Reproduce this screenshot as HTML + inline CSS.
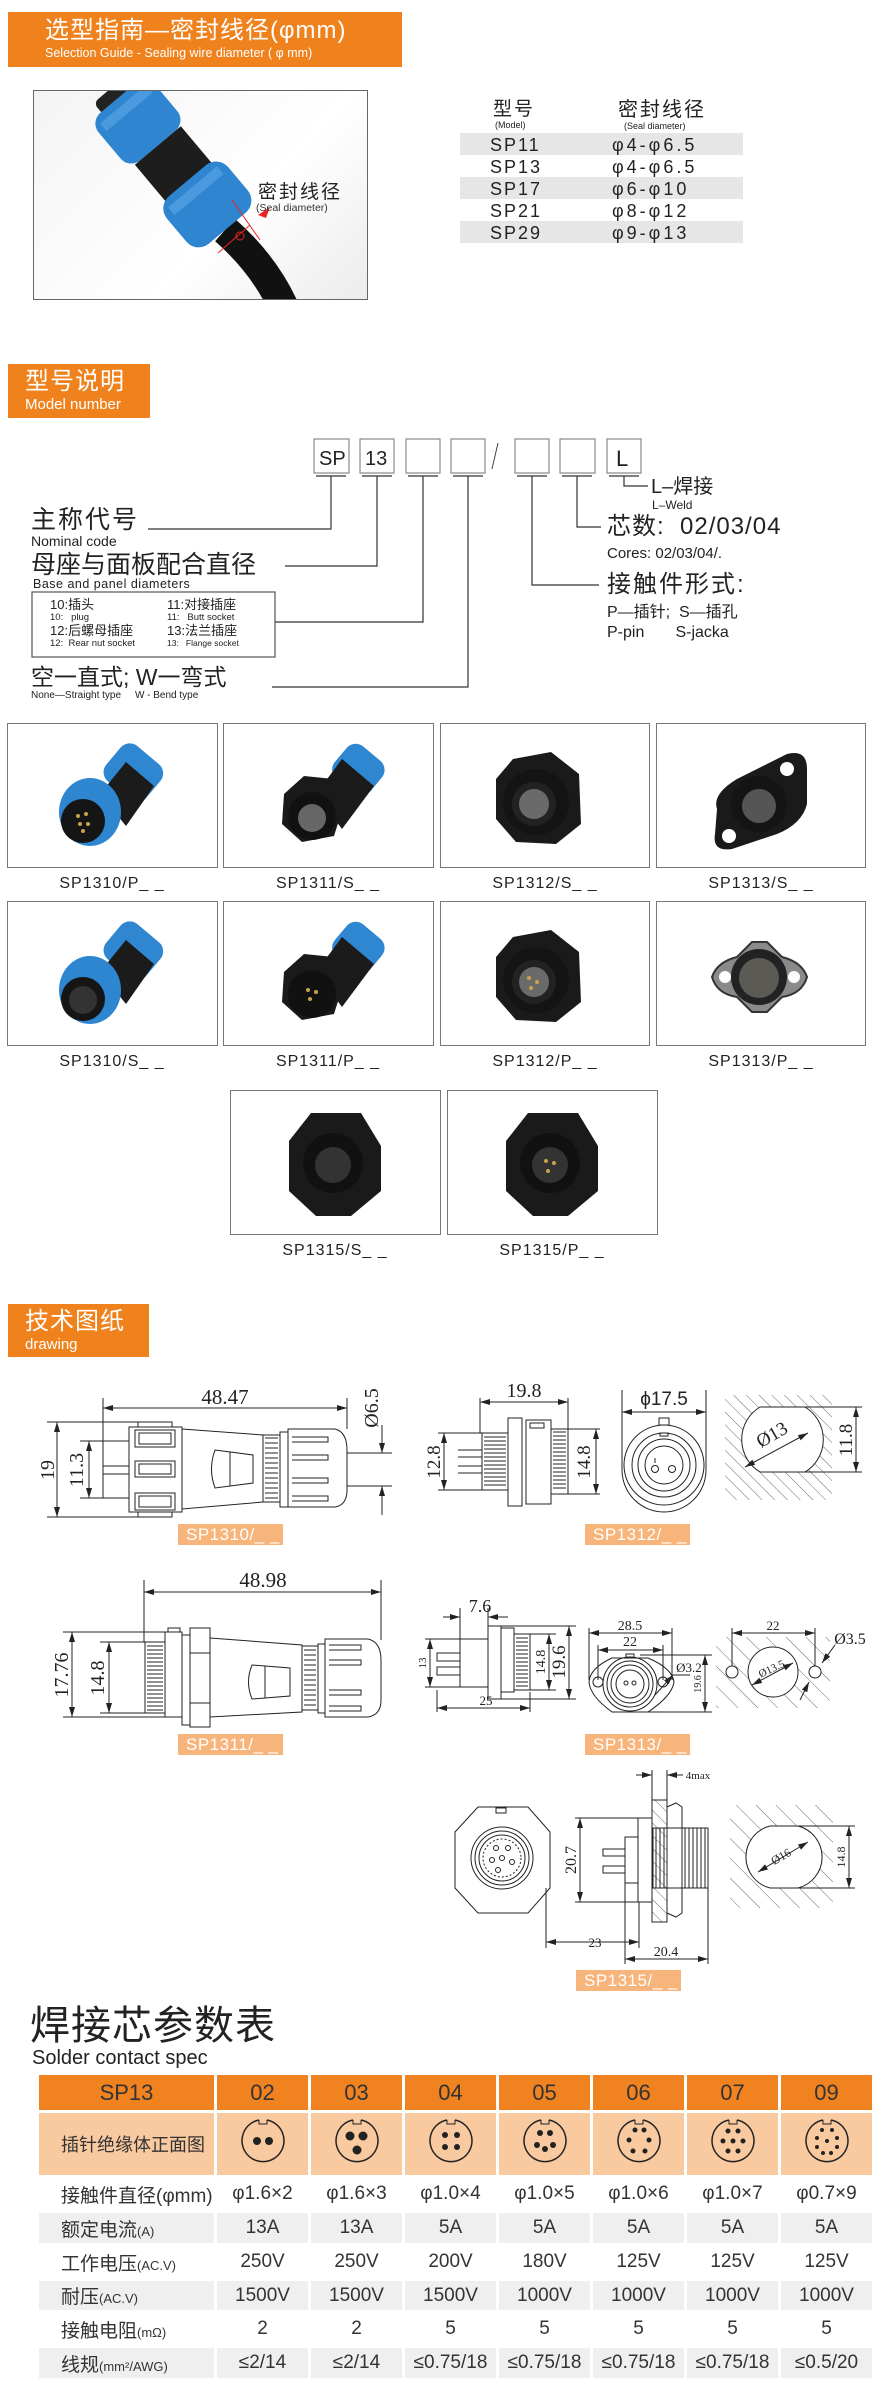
<!DOCTYPE html>
<html><head><meta charset="utf-8">
<style>
*{margin:0;padding:0;box-sizing:border-box}
body{width:875px;height:2381px;position:relative;overflow:hidden;background:#fff;font-family:"Liberation Sans","Noto Sans CJK SC",sans-serif;color:#222}
.a{position:absolute;white-space:nowrap;line-height:1}
.hdr{position:absolute;background:#f0821e;color:#fff}
.cell{position:absolute;border:1.5px solid #777;background:#fff;overflow:hidden}
.cap{position:absolute;font-size:16px;letter-spacing:1px;color:#222;text-align:center;width:210px;line-height:1}
table.sp{position:absolute;left:36px;top:2072px;border-collapse:separate;border-spacing:3px;font-family:"Liberation Sans Narrow","Liberation Sans","Noto Sans CJK SC",sans-serif}
table.sp td{text-align:center;font-size:19px;color:#333;padding:0}
table.sp tr.h td{background:#f0821f;color:#333;font-size:22px;height:35px}
table.sp tr.i td{background:#f9c9a0;height:62px}
table.sp tr.g td{background:#efefef}
table.sp td.f{text-align:left;padding-left:22px;font-size:19px;width:175px}
table.sp td.c{width:91px}
.lbl{position:absolute;background:#f7b47b;color:#fff;font-size:17px;width:105px;height:21px;line-height:21px;padding-left:8px;letter-spacing:.5px}
</style></head><body>

<!-- header 1 -->
<div class="hdr" style="left:8px;top:12px;width:394px;height:55px">
<div class="a" style="left:37px;top:7px;font-size:24px;letter-spacing:1px">选型指南—密封线径(φmm)</div>
<div class="a" style="left:37px;top:35px;font-size:12.5px">Selection Guide - Sealing wire diameter ( φ mm)</div>
</div>

<!-- photo -->
<div style="position:absolute;left:33px;top:90px;width:335px;height:210px;border:1.5px solid #666;background:linear-gradient(135deg,#f4f4f4,#fff 60%,#ececec);overflow:hidden">
<svg width="335" height="210" viewBox="33 90 335 210" style="position:absolute;left:-1px;top:-1px">
<path d="M225,230 Q265,265 285,310" fill="none" stroke="#111" stroke-width="30"/>
<g transform="translate(118,98) rotate(50)">
<rect x="-12" y="-22" width="16" height="44" rx="6" fill="#222"/>
<rect x="0" y="-37" width="62" height="74" rx="14" fill="#2f85cf"/>
<rect x="8" y="-30" width="10" height="60" fill="#4b9ae0"/>
<rect x="62" y="-30" width="52" height="60" fill="#1d1d1d"/>
<rect x="108" y="-40" width="62" height="80" rx="16" fill="#2f85cf"/>
<rect x="116" y="-32" width="10" height="64" fill="#4b9ae0"/>
</g>
<line x1="250" y1="225" x2="218" y2="253" stroke="#e22" stroke-width="1"/>
<line x1="232" y1="200" x2="260" y2="240" stroke="#e22" stroke-width="1"/>
<polygon points="258,215 270,207 266,218" fill="#e22"/>
<circle cx="240" cy="236" r="4" fill="none" stroke="#e22"/>
</svg>
<div class="a" style="left:224px;top:92px;font-size:19px;color:#222;letter-spacing:2px">密封线径</div>
<div class="a" style="left:222px;top:112px;font-size:10.5px;color:#333">(Seal diameter)</div>
</div>

<!-- seal table -->
<div class="a" style="left:493px;top:100px;font-size:19px;letter-spacing:2px">型号</div>
<div class="a" style="left:495px;top:121px;font-size:9px">(Model)</div>
<div class="a" style="left:618px;top:100px;font-size:20px;letter-spacing:2px">密封线径</div>
<div class="a" style="left:624px;top:122px;font-size:9px">(Seal diameter)</div>
<div style="position:absolute;left:460px;top:133px;width:283px;height:22px;background:#e6e6e6"></div>
<div style="position:absolute;left:460px;top:177px;width:283px;height:22px;background:#e6e6e6"></div>
<div style="position:absolute;left:460px;top:221px;width:283px;height:22px;background:#e6e6e6"></div>
<div class="a" style="left:490px;top:134px;font-size:18px;letter-spacing:2px;line-height:22px">SP11<br>SP13<br>SP17<br>SP21<br>SP29</div>
<div class="a" style="left:612px;top:134px;font-size:18px;letter-spacing:3px;line-height:22px">φ4-φ6.5<br>φ4-φ6.5<br>φ6-φ10<br>φ8-φ12<br>φ9-φ13</div>

<!-- header 2 -->
<div class="hdr" style="left:8px;top:364px;width:142px;height:54px">
<div class="a" style="left:17px;top:6px;font-size:24px;letter-spacing:1px">型号说明</div>
<div class="a" style="left:17px;top:33px;font-size:15px">Model number</div>
</div>

<!-- model code diagram -->
<svg class="a" style="left:0;top:430px" width="875" height="280" viewBox="0 430 875 280">
<g fill="#fff" stroke="#888" stroke-width="1.2">
<rect x="314" y="439" width="35" height="34"/><rect x="360" y="439" width="34" height="34"/><rect x="406" y="439" width="34" height="34"/><rect x="451" y="439" width="34" height="34"/><rect x="515" y="439" width="34" height="34"/><rect x="560" y="439" width="35" height="34"/><rect x="607" y="439" width="34" height="34"/>
</g>
<line x1="498" y1="443" x2="492" y2="469" stroke="#444"/>
<g stroke="#333" stroke-width="1.2" fill="none">
<line x1="316" y1="476" x2="346" y2="476"/><line x1="362" y1="476" x2="392" y2="476"/><line x1="408" y1="476" x2="438" y2="476"/><line x1="453" y1="476" x2="483" y2="476"/><line x1="517" y1="476" x2="547" y2="476"/><line x1="562" y1="476" x2="592" y2="476"/><line x1="609" y1="476" x2="639" y2="476"/>
<polyline points="331,476 331,529 148,529"/>
<polyline points="377,476 377,566 285,566"/>
<polyline points="423,476 423,622 275,622"/>
<polyline points="468,476 468,687 272,687"/>
<polyline points="532,476 532,585 599,585"/>
<polyline points="577,476 577,527 601,527"/>
<polyline points="624,476 624,486 648,486"/>
<rect x="32" y="592" width="243" height="65" stroke="#555"/>
</g>
<text x="616" y="466" font-size="22" fill="#222" font-family="Liberation Sans">L</text>
<text x="319" y="465" font-size="20" fill="#222" font-family="Liberation Sans">SP</text>
<text x="365" y="465" font-size="20" fill="#222" font-family="Liberation Sans">13</text>
</svg>
<div class="a" style="left:651px;top:477px;font-size:20px">L–焊接</div>
<div class="a" style="left:652px;top:499px;font-size:12px">L–Weld</div>
<div class="a" style="left:607px;top:515px;font-size:24px;letter-spacing:1px">芯数:&nbsp; 02/03/04</div>
<div class="a" style="left:607px;top:546px;font-size:15px">Cores: 02/03/04/.</div>
<div class="a" style="left:607px;top:573px;font-size:24px;letter-spacing:2px">接触件形式:</div>
<div class="a" style="left:607px;top:605px;font-size:16px">P—插针;&nbsp; S—插孔</div>
<div class="a" style="left:607px;top:625px;font-size:16px">P-pin&nbsp;&nbsp;&nbsp;&nbsp;&nbsp;&nbsp; S-jacka</div>

<div class="a" style="left:31px;top:508px;font-size:25px;letter-spacing:2px">主称代号</div>
<div class="a" style="left:31px;top:534px;font-size:14px">Nominal code</div>
<div class="a" style="left:31px;top:553px;font-size:25px">母座与面板配合直径</div>
<div class="a" style="left:33px;top:578px;font-size:12.5px;letter-spacing:.5px">Base and panel diameters</div>
<div class="a" style="left:50px;top:598px;font-size:13px">10:插头</div>
<div class="a" style="left:50px;top:613px;font-size:9.5px">10:&nbsp;&nbsp; plug</div>
<div class="a" style="left:50px;top:624px;font-size:13px">12:后螺母插座</div>
<div class="a" style="left:50px;top:639px;font-size:9.5px">12:&nbsp; Rear nut socket</div>
<div class="a" style="left:167px;top:598px;font-size:13px">11:对接插座</div>
<div class="a" style="left:167px;top:613px;font-size:9.5px">11:&nbsp;&nbsp; Butt socket</div>
<div class="a" style="left:167px;top:624px;font-size:13px">13:法兰插座</div>
<div class="a" style="left:167px;top:639px;font-size:8.5px">13:&nbsp;&nbsp; Flange socket</div>
<div class="a" style="left:31px;top:666px;font-size:23px">空一直式;&nbsp;W一弯式</div>
<div class="a" style="left:31px;top:691px;font-size:10px">None—Straight type&nbsp;&nbsp;&nbsp;&nbsp; W - Bend type</div>

<!-- photo grid symbols -->
<svg width="0" height="0" style="position:absolute">
<defs>
<g id="plug">
<g transform="rotate(40 126 48)"><rect x="100" y="26" width="52" height="46" rx="12" fill="#2f86d1"/></g>
<polygon points="92,70 118,38 146,62 118,102" fill="#1b1b1b"/>
<ellipse cx="82" cy="88" rx="31" ry="34" fill="#2e85d0"/>
<circle cx="75" cy="97" r="22" fill="#151515"/>
</g>
<g id="plughex">
<g transform="rotate(40 135 45)"><rect x="112" y="25" width="46" height="42" rx="12" fill="#2f86d1"/></g>
<polygon points="92,70 118,35 150,62 118,105" fill="#1b1b1b"/>
<polygon points="60,70 80,52 110,55 120,80 110,112 78,118 58,100" fill="#1a1a1a"/>
<circle cx="88" cy="92" r="24" fill="#111"/>
</g>
<g id="panel">
<polygon points="72,35 110,28 138,50 140,100 115,120 75,118 55,95 55,55" fill="#1a1a1a"/>
<circle cx="95" cy="78" r="33" fill="#141414"/>
<circle cx="93" cy="80" r="22" fill="#222"/>
<circle cx="93" cy="80" r="15" fill="#6a6a6a"/>
</g>
<g id="flange">
<path d="M60,85 Q55,70 80,55 L130,30 Q150,25 150,45 L150,80 Q145,100 120,110 L75,125 Q55,128 58,110 Z" fill="#1a1a1a"/>
<circle cx="130" cy="45" r="7" fill="#fff"/><circle cx="72" cy="112" r="7" fill="#fff"/>
<circle cx="102" cy="80" r="28" fill="#141414"/>
<circle cx="102" cy="82" r="17" fill="#555"/>
</g>
<g id="hex15">
<polygon points="80,22 130,22 150,55 150,100 120,125 85,125 58,100 58,50" fill="#1a1a1a"/>
<circle cx="102" cy="72" r="30" fill="#111"/><circle cx="102" cy="74" r="18" fill="#333"/>
</g>
</defs>
</svg>

<!-- row 1 -->
<div class="cell" style="left:7px;top:723px;width:211px;height:145px"><svg width="210" height="145"><use href="#plug"/><g fill="#c9a24a"><circle cx="70" cy="92" r="2"/><circle cx="78" cy="90" r="2"/><circle cx="72" cy="100" r="2"/><circle cx="80" cy="100" r="2"/><circle cx="75" cy="107" r="2"/></g></svg></div>
<div class="cell" style="left:223px;top:723px;width:211px;height:145px"><svg width="210" height="145"><use href="#plughex"/><circle cx="88" cy="94" r="14" fill="#666"/></svg></div>
<div class="cell" style="left:440px;top:723px;width:210px;height:145px"><svg width="210" height="145"><use href="#panel"/></svg></div>
<div class="cell" style="left:656px;top:723px;width:210px;height:145px"><svg width="210" height="145"><use href="#flange"/></svg></div>
<div class="cap" style="left:7px;top:876px">SP1310/P_ _</div>
<div class="cap" style="left:223px;top:876px">SP1311/S_ _</div>
<div class="cap" style="left:440px;top:876px">SP1312/S_ _</div>
<div class="cap" style="left:656px;top:876px">SP1313/S_ _</div>
<!-- row 2 -->
<div class="cell" style="left:7px;top:901px;width:211px;height:145px"><svg width="210" height="145"><use href="#plug"/><circle cx="75" cy="98" r="14" fill="#333"/></svg></div>
<div class="cell" style="left:223px;top:901px;width:211px;height:145px"><svg width="210" height="145"><use href="#plughex"/><g fill="#c9a24a"><circle cx="84" cy="88" r="2"/><circle cx="92" cy="90" r="2"/><circle cx="86" cy="97" r="2"/></g></svg></div>
<div class="cell" style="left:440px;top:901px;width:210px;height:145px"><svg width="210" height="145"><use href="#panel"/><g fill="#c9a24a"><circle cx="88" cy="76" r="2"/><circle cx="96" cy="80" r="2"/><circle cx="90" cy="86" r="2"/></g></svg></div>
<div class="cell" style="left:656px;top:901px;width:210px;height:145px"><svg width="210" height="145"><path d="M55,75 Q60,60 80,55 L95,40 L110,40 L125,55 Q145,60 150,75 Q145,92 125,95 L110,110 L95,110 L80,95 Q60,92 55,75Z" fill="#8a8a8a" stroke="#333" stroke-width="2"/><circle cx="68" cy="75" r="6" fill="#fff"/><circle cx="137" cy="75" r="6" fill="#fff"/><circle cx="102" cy="75" r="28" fill="#222"/><circle cx="102" cy="76" r="20" fill="#5c5a55"/></svg></div>
<div class="cap" style="left:7px;top:1054px">SP1310/S_ _</div>
<div class="cap" style="left:223px;top:1054px">SP1311/P_ _</div>
<div class="cap" style="left:440px;top:1054px">SP1312/P_ _</div>
<div class="cap" style="left:656px;top:1054px">SP1313/P_ _</div>
<!-- row 3 -->
<div class="cell" style="left:230px;top:1090px;width:211px;height:145px"><svg width="210" height="145"><use href="#hex15"/></svg></div>
<div class="cell" style="left:447px;top:1090px;width:211px;height:145px"><svg width="210" height="145"><use href="#hex15"/><g fill="#c9a24a"><circle cx="98" cy="70" r="2"/><circle cx="106" cy="72" r="2"/><circle cx="100" cy="80" r="2"/></g></svg></div>
<div class="cap" style="left:230px;top:1243px">SP1315/S_ _</div>
<div class="cap" style="left:447px;top:1243px">SP1315/P_ _</div>

<!-- header 3 -->
<div class="hdr" style="left:8px;top:1304px;width:141px;height:53px">
<div class="a" style="left:17px;top:6px;font-size:24px;letter-spacing:1px">技术图纸</div>
<div class="a" style="left:17px;top:33px;font-size:15px">drawing</div>
</div>

<!-- drawings -->
<svg class="a" style="left:0;top:1370px" width="875" height="630" viewBox="0 1370 875 630" font-family="Liberation Serif,serif" fill="none" stroke="#222" stroke-width="1">
<defs>
<marker id="ar" viewBox="0 0 10 6" refX="10" refY="3" markerWidth="10" markerHeight="6" orient="auto-start-reverse" markerUnits="userSpaceOnUse"><path d="M0,0 L10,3 L0,6 Z" fill="#222" stroke="none"/></marker>
<pattern id="hat" width="9" height="9" patternUnits="userSpaceOnUse" patternTransform="rotate(-45)"><line x1="0" y1="0" x2="0" y2="9" stroke="#444" stroke-width="0.8"/></pattern>
<pattern id="hat2" width="14" height="14" patternUnits="userSpaceOnUse" patternTransform="rotate(-45)"><line x1="0" y1="0" x2="0" y2="14" stroke="#444" stroke-width="0.8"/></pattern>
</defs>

<!-- SP1310 -->
<line x1="103" y1="1398" x2="103" y2="1498"/><line x1="347" y1="1398" x2="347" y2="1429"/>
<line x1="103" y1="1408" x2="347" y2="1408" marker-start="url(#ar)" marker-end="url(#ar)"/>
<text x="225" y="1404" font-size="21" fill="#222" stroke="none" text-anchor="middle">48.47</text>
<line x1="47" y1="1422" x2="172" y2="1422"/><line x1="47" y1="1517" x2="172" y2="1517"/>
<line x1="57" y1="1422" x2="57" y2="1517" marker-start="url(#ar)" marker-end="url(#ar)"/>
<text x="54" y="1470" font-size="20" fill="#222" stroke="none" text-anchor="middle" transform="rotate(-90 54 1470)">19</text>
<line x1="80" y1="1441" x2="129" y2="1441"/><line x1="80" y1="1498" x2="129" y2="1498"/>
<line x1="89" y1="1441" x2="89" y2="1498" marker-start="url(#ar)" marker-end="url(#ar)"/>
<text x="83" y="1470" font-size="20" fill="#222" stroke="none" text-anchor="middle" transform="rotate(-90 83 1470)">11.3</text>
<line x1="103" y1="1466" x2="129" y2="1466"/><line x1="103" y1="1474" x2="129" y2="1474"/>
<rect x="129" y="1427" width="53" height="85"/>
<rect x="138" y="1422" width="34" height="5"/><rect x="138" y="1512" width="34" height="5"/>
<rect x="135" y="1430" width="40" height="17"/><rect x="139" y="1433" width="32" height="11"/>
<rect x="135" y="1461" width="40" height="16"/><rect x="139" y="1464" width="32" height="10"/>
<rect x="135" y="1493" width="40" height="17"/><rect x="139" y="1496" width="32" height="11"/>
<polygon points="182,1429 263,1435 263,1502 182,1509"/>
<path d="M215,1450 L253,1455 L253,1483 L215,1488 Q208,1469 215,1450Z"/><line x1="230" y1="1452" x2="230" y2="1486"/>
<rect x="263" y="1435" width="17" height="67"/>
<path d="M265,1438 h13 M265,1443 h13 M265,1448 h13 M265,1453 h13 M265,1458 h13 M265,1463 h13 M265,1468 h13 M265,1473 h13 M265,1478 h13 M265,1483 h13 M265,1488 h13 M265,1493 h13 M265,1498 h13"/>
<rect x="280" y="1432" width="8" height="75"/>
<path d="M288,1429 L335,1429 Q347,1432 347,1450 L347,1490 Q347,1505 335,1507 L288,1507 Z"/>
<path d="M292,1437 h36 v5 h-36 M292,1455 h36 v5 h-36 M292,1478 h36 v5 h-36 M292,1496 h36 v5 h-36"/>
<line x1="347" y1="1453" x2="392" y2="1453"/><line x1="347" y1="1486" x2="392" y2="1486"/>
<line x1="382" y1="1425" x2="382" y2="1453" marker-end="url(#ar)"/><line x1="382" y1="1515" x2="382" y2="1486" marker-end="url(#ar)"/>
<text x="378" y="1408" font-size="20" fill="#222" stroke="none" text-anchor="middle" transform="rotate(-90 378 1408)">Ø6.5</text>

<!-- SP1312 -->
<line x1="480" y1="1398" x2="480" y2="1433"/><line x1="568" y1="1398" x2="568" y2="1430"/>
<line x1="480" y1="1402" x2="568" y2="1402" marker-start="url(#ar)" marker-end="url(#ar)"/>
<text x="524" y="1397" font-size="20" fill="#222" stroke="none" text-anchor="middle">19.8</text>
<line x1="438" y1="1433" x2="482" y2="1433"/><line x1="438" y1="1490" x2="482" y2="1490"/>
<line x1="444" y1="1433" x2="444" y2="1490" marker-start="url(#ar)" marker-end="url(#ar)"/>
<text x="440" y="1462" font-size="19" fill="#222" stroke="none" text-anchor="middle" transform="rotate(-90 440 1462)">12.8</text>
<line x1="458" y1="1450" x2="482" y2="1450"/><line x1="458" y1="1457" x2="482" y2="1457"/><line x1="458" y1="1466" x2="482" y2="1466"/><line x1="458" y1="1473" x2="482" y2="1473"/>
<rect x="482" y="1433" width="26" height="57"/>
<path d="M484,1437 h22 M484,1441 h22 M484,1445 h22 M484,1449 h22 M484,1453 h22 M484,1457 h22 M484,1461 h22 M484,1465 h22 M484,1469 h22 M484,1473 h22 M484,1477 h22 M484,1481 h22 M484,1485 h22"/>
<rect x="508" y="1418" width="14" height="88"/>
<rect x="526" y="1420" width="25" height="84"/><rect x="530" y="1423" width="14" height="5"/>
<rect x="551" y="1429" width="17" height="65"/>
<path d="M553,1432 h13 M553,1436 h13 M553,1440 h13 M553,1444 h13 M553,1448 h13 M553,1452 h13 M553,1456 h13 M553,1460 h13 M553,1464 h13 M553,1468 h13 M553,1472 h13 M553,1476 h13 M553,1480 h13 M553,1484 h13 M553,1488 h13"/>
<line x1="568" y1="1429" x2="600" y2="1429"/><line x1="568" y1="1494" x2="600" y2="1494"/>
<line x1="596" y1="1429" x2="596" y2="1494" marker-start="url(#ar)" marker-end="url(#ar)"/>
<text x="590" y="1462" font-size="19" fill="#222" stroke="none" text-anchor="middle" transform="rotate(-90 590 1462)">14.8</text>
<line x1="622" y1="1390" x2="622" y2="1470"/><line x1="706" y1="1390" x2="706" y2="1470"/>
<line x1="622" y1="1412" x2="706" y2="1412" marker-start="url(#ar)" marker-end="url(#ar)"/>
<text x="664" y="1405" font-size="19" fill="#222" stroke="none" text-anchor="middle" font-family="Liberation Sans">ϕ17.5</text>
<path d="M622,1420 L622,1470 A42,42 0 0 0 706,1470 L706,1420"/>
<circle cx="664" cy="1465" r="40"/><circle cx="664" cy="1465" r="32"/><circle cx="664" cy="1465" r="26"/><circle cx="664" cy="1465" r="19"/>
<rect x="659" y="1418" width="10" height="7"/><rect x="660" y="1433" width="8" height="3"/>
<circle cx="655" cy="1469" r="3.5"/><circle cx="672" cy="1469" r="3.5"/><line x1="655" y1="1458" x2="655" y2="1463"/>
<rect x="725" y="1395" width="107" height="105" fill="url(#hat)" stroke="none"/>
<path d="M760,1407 L805,1407 A38,38 0 0 1 805,1472 L760,1472 A38,38 0 0 1 760,1407Z" fill="#fff" stroke="#222"/>
<line x1="745" y1="1467" x2="808" y2="1433" marker-start="url(#ar)" marker-end="url(#ar)"/>
<text x="775" y="1440" font-size="19" fill="#222" stroke="none" text-anchor="middle" transform="rotate(-30 775 1440)">Ø13</text>
<line x1="805" y1="1407" x2="862" y2="1407"/><line x1="805" y1="1472" x2="862" y2="1472"/>
<line x1="856" y1="1407" x2="856" y2="1472" marker-start="url(#ar)" marker-end="url(#ar)"/>
<text x="852" y="1440" font-size="19" fill="#222" stroke="none" text-anchor="middle" transform="rotate(-90 852 1440)">11.8</text>

<!-- SP1311 -->
<line x1="144" y1="1580" x2="144" y2="1642"/><line x1="381" y1="1580" x2="381" y2="1640"/>
<line x1="144" y1="1592" x2="381" y2="1592" marker-start="url(#ar)" marker-end="url(#ar)"/>
<text x="263" y="1587" font-size="21" fill="#222" stroke="none" text-anchor="middle">48.98</text>
<line x1="63" y1="1632" x2="165" y2="1632"/><line x1="63" y1="1717" x2="165" y2="1717"/>
<line x1="72" y1="1632" x2="72" y2="1717" marker-start="url(#ar)" marker-end="url(#ar)"/>
<text x="68" y="1675" font-size="20" fill="#222" stroke="none" text-anchor="middle" transform="rotate(-90 68 1675)">17.76</text>
<line x1="100" y1="1642" x2="145" y2="1642"/><line x1="100" y1="1713" x2="145" y2="1713"/>
<line x1="109" y1="1642" x2="109" y2="1713" marker-start="url(#ar)" marker-end="url(#ar)"/>
<text x="104" y="1678" font-size="20" fill="#222" stroke="none" text-anchor="middle" transform="rotate(-90 104 1678)">14.8</text>
<rect x="145" y="1642" width="20" height="71"/>
<path d="M147,1646 h16 M147,1650 h16 M147,1654 h16 M147,1658 h16 M147,1662 h16 M147,1666 h16 M147,1670 h16 M147,1674 h16 M147,1678 h16 M147,1682 h16 M147,1686 h16 M147,1690 h16 M147,1694 h16 M147,1698 h16 M147,1702 h16 M147,1706 h16 M147,1710 h16"/>
<rect x="165" y="1632" width="17" height="85"/><rect x="168" y="1628" width="12" height="4"/>
<rect x="182" y="1635" width="8" height="90"/>
<rect x="190" y="1628" width="20" height="99"/><line x1="190" y1="1653" x2="210" y2="1653"/><line x1="190" y1="1703" x2="210" y2="1703"/>
<polygon points="210,1638 302,1645 302,1712 210,1717"/>
<path d="M252,1665 L290,1668 L290,1696 L252,1699 Q245,1682 252,1665Z"/><line x1="265" y1="1666" x2="265" y2="1698"/>
<rect x="302" y="1646" width="16" height="64"/>
<path d="M304,1650 h12 M304,1655 h12 M304,1660 h12 M304,1665 h12 M304,1670 h12 M304,1675 h12 M304,1680 h12 M304,1685 h12 M304,1690 h12 M304,1695 h12 M304,1700 h12 M304,1705 h12"/>
<rect x="318" y="1644" width="7" height="69"/>
<path d="M325,1639 L368,1639 Q381,1642 381,1660 L381,1700 Q381,1715 368,1717 L325,1717 Z"/>
<path d="M329,1645 h32 v5 h-32 M329,1660 h32 v5 h-32 M329,1690 h32 v5 h-32 M329,1706 h32 v5 h-32"/>

<!-- SP1313 -->
<line x1="460" y1="1608" x2="460" y2="1639"/><line x1="488" y1="1608" x2="488" y2="1626"/>
<line x1="443" y1="1617" x2="460" y2="1617" marker-end="url(#ar)"/><line x1="508" y1="1617" x2="488" y2="1617" marker-end="url(#ar)"/>
<text x="480" y="1612" font-size="18" fill="#222" stroke="none" text-anchor="middle">7.6</text>
<line x1="425" y1="1639" x2="460" y2="1639"/><line x1="425" y1="1687" x2="460" y2="1687"/>
<line x1="430" y1="1639" x2="430" y2="1687" marker-start="url(#ar)" marker-end="url(#ar)"/>
<text x="426" y="1663" font-size="11" fill="#222" stroke="none" text-anchor="middle" transform="rotate(-90 426 1663)">13</text>
<rect x="437" y="1653" width="23" height="8"/><rect x="437" y="1667" width="23" height="8"/>
<rect x="460" y="1639" width="28" height="48"/>
<rect x="488" y="1626" width="13" height="73"/><rect x="501" y="1628" width="13" height="64"/>
<rect x="514" y="1634" width="16" height="56"/>
<path d="M516,1638 h12 M516,1642 h12 M516,1646 h12 M516,1650 h12 M516,1654 h12 M516,1658 h12 M516,1662 h12 M516,1666 h12 M516,1670 h12 M516,1674 h12 M516,1678 h12 M516,1682 h12 M516,1686 h12"/>
<line x1="530" y1="1634" x2="556" y2="1634"/><line x1="530" y1="1690" x2="556" y2="1690"/>
<line x1="549" y1="1634" x2="549" y2="1690" marker-start="url(#ar)" marker-end="url(#ar)"/>
<text x="545" y="1662" font-size="14" fill="#222" stroke="none" text-anchor="middle" transform="rotate(-90 545 1662)">14.8</text>
<line x1="501" y1="1626" x2="576" y2="1626"/><line x1="501" y1="1699" x2="576" y2="1699"/>
<line x1="569" y1="1626" x2="569" y2="1699" marker-start="url(#ar)" marker-end="url(#ar)"/>
<text x="565" y="1662" font-size="19" fill="#222" stroke="none" text-anchor="middle" transform="rotate(-90 565 1662)">19.6</text>
<line x1="437" y1="1690" x2="437" y2="1712"/><line x1="530" y1="1692" x2="530" y2="1712"/>
<line x1="437" y1="1708" x2="530" y2="1708" marker-start="url(#ar)" marker-end="url(#ar)"/>
<text x="486" y="1705" font-size="13" fill="#222" stroke="none" text-anchor="middle">25</text>
<line x1="589" y1="1628" x2="589" y2="1680"/><line x1="672" y1="1628" x2="672" y2="1680"/>
<line x1="589" y1="1633" x2="672" y2="1633" marker-start="url(#ar)" marker-end="url(#ar)"/>
<text x="630" y="1630" font-size="14" fill="#222" stroke="none" text-anchor="middle">28.5</text>
<line x1="598" y1="1645" x2="598" y2="1680"/><line x1="663" y1="1645" x2="663" y2="1680"/>
<line x1="598" y1="1650" x2="663" y2="1650" marker-start="url(#ar)" marker-end="url(#ar)"/>
<text x="630" y="1646" font-size="14" fill="#222" stroke="none" text-anchor="middle">22</text>
<path d="M612,1658 L648,1658 Q672,1668 674,1682 Q672,1696 648,1712 L612,1712 Q590,1696 589,1682 Q590,1668 612,1658Z"/>
<circle cx="598" cy="1682" r="5"/><circle cx="663" cy="1682" r="5"/>
<circle cx="630" cy="1684" r="27"/><circle cx="630" cy="1684" r="23"/><circle cx="630" cy="1684" r="19"/><circle cx="630" cy="1684" r="14"/>
<circle cx="626" cy="1683" r="2"/><circle cx="634" cy="1683" r="2"/><rect x="626" y="1654" width="8" height="4"/>
<line x1="655" y1="1695" x2="673" y2="1675" marker-end="url(#ar)"/><line x1="673" y1="1675" x2="690" y2="1675"/>
<text x="689" y="1672" font-size="13" fill="#222" stroke="none" text-anchor="middle">Ø3.2</text>
<line x1="640" y1="1655" x2="712" y2="1655"/><line x1="640" y1="1712" x2="712" y2="1712"/>
<line x1="705" y1="1655" x2="705" y2="1712" marker-start="url(#ar)" marker-end="url(#ar)"/>
<text x="701" y="1684" font-size="10" fill="#222" stroke="none" text-anchor="middle" transform="rotate(-90 701 1684)">19.6</text>
<rect x="716" y="1637" width="114" height="71" fill="url(#hat2)" stroke="none"/>
<circle cx="773" cy="1672" r="25" fill="#fff"/><circle cx="732" cy="1672" r="6" fill="#fff"/><circle cx="815" cy="1672" r="6" fill="#fff"/>
<line x1="752" y1="1685" x2="793" y2="1663" marker-start="url(#ar)" marker-end="url(#ar)"/>
<text x="773" y="1672" font-size="11" fill="#222" stroke="none" text-anchor="middle" transform="rotate(-25 773 1672)">Ø13.5</text>
<line x1="732" y1="1628" x2="732" y2="1666"/><line x1="815" y1="1628" x2="815" y2="1666"/>
<line x1="732" y1="1633" x2="815" y2="1633" marker-start="url(#ar)" marker-end="url(#ar)"/>
<text x="773" y="1630" font-size="13" fill="#222" stroke="none" text-anchor="middle">22</text>
<line x1="835" y1="1645" x2="822" y2="1663" marker-end="url(#ar)"/><line x1="800" y1="1700" x2="809" y2="1682" marker-end="url(#ar)"/>
<text x="850" y="1644" font-size="16" fill="#222" stroke="none" text-anchor="middle">Ø3.5</text>

<!-- SP1315 -->
<polygon points="478,1807 528,1807 550,1832 550,1888 528,1913 478,1913 455,1888 455,1832"/>
<rect x="496" y="1808" width="10" height="5"/>
<circle cx="502" cy="1858" r="31"/><circle cx="502" cy="1858" r="27"/><circle cx="502" cy="1858" r="23"/><circle cx="502" cy="1858" r="19" stroke-dasharray="2 2"/>
<circle cx="496" cy="1848" r="2.5"/><circle cx="508" cy="1848" r="2.5"/><circle cx="492" cy="1860" r="2.5"/><circle cx="502" cy="1858" r="2.5"/><circle cx="512" cy="1862" r="2.5"/><circle cx="498" cy="1870" r="2.5"/>
<line x1="546" y1="1888" x2="546" y2="1948"/><line x1="639" y1="1902" x2="639" y2="1948"/>
<line x1="546" y1="1942" x2="639" y2="1942" marker-start="url(#ar)" marker-end="url(#ar)"/>
<text x="595" y="1947" font-size="13" fill="#222" stroke="none" text-anchor="middle">23</text>
<rect x="652" y="1800" width="15" height="122" fill="url(#hat)"/>
<rect x="638" y="1818" width="14" height="84"/><rect x="625" y="1837" width="13" height="46"/>
<rect x="603" y="1849" width="22" height="7"/><rect x="603" y="1866" width="22" height="7"/>
<path d="M667,1807 L676,1803 L682,1807 L682,1913 L676,1917 L667,1913 Z"/>
<rect x="653" y="1828" width="55" height="60"/>
<path d="M656,1828 v60 M660,1828 v60 M664,1828 v60 M685,1828 v60 M689,1828 v60 M693,1828 v60 M697,1828 v60 M701,1828 v60 M705,1828 v60"/>
<line x1="575" y1="1818" x2="638" y2="1818"/><line x1="575" y1="1902" x2="638" y2="1902"/>
<line x1="580" y1="1818" x2="580" y2="1902" marker-start="url(#ar)" marker-end="url(#ar)"/>
<text x="576" y="1860" font-size="16" fill="#222" stroke="none" text-anchor="middle" transform="rotate(-90 576 1860)">20.7</text>
<line x1="652" y1="1770" x2="652" y2="1800"/><line x1="667" y1="1770" x2="667" y2="1800"/>
<line x1="636" y1="1775" x2="652" y2="1775" marker-end="url(#ar)"/><line x1="683" y1="1775" x2="667" y2="1775" marker-end="url(#ar)"/>
<text x="698" y="1779" font-size="11" fill="#222" stroke="none" text-anchor="middle">4max</text>
<line x1="625" y1="1883" x2="625" y2="1964"/><line x1="708" y1="1888" x2="708" y2="1964"/>
<line x1="625" y1="1959" x2="708" y2="1959" marker-start="url(#ar)" marker-end="url(#ar)"/>
<text x="666" y="1956" font-size="14" fill="#222" stroke="none" text-anchor="middle">20.4</text>
<rect x="730" y="1805" width="103" height="103" fill="url(#hat2)" stroke="none"/>
<path d="M770,1826 L798,1826 A32,32 0 0 1 798,1888 L770,1888 A32,32 0 0 1 770,1826Z" fill="#fff" stroke="#222"/>
<line x1="758" y1="1872" x2="808" y2="1842" marker-start="url(#ar)" marker-end="url(#ar)"/>
<text x="783" y="1860" font-size="12" fill="#222" stroke="none" text-anchor="middle" transform="rotate(-30 783 1860)">Ø16</text>
<line x1="798" y1="1826" x2="855" y2="1826"/><line x1="798" y1="1888" x2="855" y2="1888"/>
<line x1="849" y1="1826" x2="849" y2="1888" marker-start="url(#ar)" marker-end="url(#ar)"/>
<text x="845" y="1857" font-size="12" fill="#222" stroke="none" text-anchor="middle" transform="rotate(-90 845 1857)">14.8</text>
</svg>
<div class="lbl" style="left:178px;top:1524px">SP1310/_ _</div>
<div class="lbl" style="left:585px;top:1524px">SP1312/_ _</div>
<div class="lbl" style="left:178px;top:1734px">SP1311/_ _</div>
<div class="lbl" style="left:585px;top:1734px">SP1313/_ _</div>
<div class="lbl" style="left:576px;top:1970px">SP1315/_ _</div>

<!-- spec table -->
<div class="a" style="left:30px;top:2006px;font-size:40px;letter-spacing:1px">焊接芯参数表</div>
<div class="a" style="left:32px;top:2048px;font-size:20px;font-family:'Liberation Sans Narrow','Liberation Sans',sans-serif">Solder contact spec</div>

<table class="sp">
<tr class="h"><td class="f" style="text-align:center;padding:0">SP13</td><td class="c">02</td><td class="c">03</td><td class="c">04</td><td class="c">05</td><td class="c">06</td><td class="c">07</td><td class="c">09</td></tr>
<tr class="i"><td class="f" style="font-size:18px">插针绝缘体正面图</td>
<td><svg width="50" height="50"><path d="M21,4 A21,21 0 1 0 29,4" fill="none" stroke="#222" stroke-width="1.5"/><path d="M21,4 v4 h8 v-4" fill="none" stroke="#222"/><circle cx="19" cy="25" r="4" fill="#222"/><circle cx="31" cy="25" r="4" fill="#222"/></svg></td>
<td><svg width="50" height="50"><path d="M21,4 A21,21 0 1 0 29,4" fill="none" stroke="#222" stroke-width="1.5"/><path d="M21,4 v4 h8 v-4" fill="none" stroke="#222"/><circle cx="18" cy="20" r="4.5" fill="#222"/><circle cx="31" cy="20" r="4.5" fill="#222"/><circle cx="25" cy="34" r="4.5" fill="#222"/></svg></td>
<td><svg width="50" height="50"><path d="M21,4 A21,21 0 1 0 29,4" fill="none" stroke="#222" stroke-width="1.5"/><path d="M21,4 v4 h8 v-4" fill="none" stroke="#222"/><circle cx="19" cy="19" r="3" fill="#222"/><circle cx="31" cy="19" r="3" fill="#222"/><circle cx="19" cy="31" r="3" fill="#222"/><circle cx="31" cy="31" r="3" fill="#222"/></svg></td>
<td><svg width="50" height="50"><path d="M21,4 A21,21 0 1 0 29,4" fill="none" stroke="#222" stroke-width="1.5"/><path d="M21,4 v4 h8 v-4" fill="none" stroke="#222"/><circle cx="20" cy="17" r="3" fill="#222"/><circle cx="30" cy="17" r="3" fill="#222"/><circle cx="17" cy="29" r="3" fill="#222"/><circle cx="33" cy="29" r="3" fill="#222"/><circle cx="25" cy="33" r="3" fill="#222"/></svg></td>
<td><svg width="50" height="50"><path d="M21,4 A21,21 0 1 0 29,4" fill="none" stroke="#222" stroke-width="1.5"/><path d="M21,4 v4 h8 v-4" fill="none" stroke="#222"/><circle cx="21" cy="14" r="2.5" fill="#222"/><circle cx="30" cy="14" r="2.5" fill="#222"/><circle cx="35" cy="24" r="2.5" fill="#222"/><circle cx="15" cy="24" r="2.5" fill="#222"/><circle cx="19" cy="35" r="2.5" fill="#222"/><circle cx="31" cy="35" r="2.5" fill="#222"/></svg></td>
<td><svg width="50" height="50"><path d="M21,4 A21,21 0 1 0 29,4" fill="none" stroke="#222" stroke-width="1.5"/><path d="M21,4 v4 h8 v-4" fill="none" stroke="#222"/><circle cx="20" cy="15" r="2.5" fill="#222"/><circle cx="30" cy="15" r="2.5" fill="#222"/><circle cx="15" cy="25" r="2.5" fill="#222"/><circle cx="25" cy="25" r="2.5" fill="#222"/><circle cx="35" cy="25" r="2.5" fill="#222"/><circle cx="20" cy="35" r="2.5" fill="#222"/><circle cx="30" cy="35" r="2.5" fill="#222"/></svg></td>
<td><svg width="50" height="50"><path d="M21,4 A21,21 0 1 0 29,4" fill="none" stroke="#222" stroke-width="1.5"/><path d="M21,4 v4 h8 v-4" fill="none" stroke="#222"/><circle cx="20" cy="14" r="2" fill="#222"/><circle cx="30" cy="14" r="2" fill="#222"/><circle cx="15" cy="22" r="2" fill="#222"/><circle cx="35" cy="22" r="2" fill="#222"/><circle cx="25" cy="25" r="2" fill="#222"/><circle cx="15" cy="31" r="2" fill="#222"/><circle cx="35" cy="31" r="2" fill="#222"/><circle cx="21" cy="37" r="2" fill="#222"/><circle cx="29" cy="37" r="2" fill="#222"/></svg></td>
</tr>
<tr style="height:32px"><td class="f">接触件直径(φmm)</td><td>φ1.6×2</td><td>φ1.6×3</td><td>φ1.0×4</td><td>φ1.0×5</td><td>φ1.0×6</td><td>φ1.0×7</td><td>φ0.7×9</td></tr>
<tr class="g" style="height:30px"><td class="f">额定电流<span style="font-size:13px">(A)</span></td><td>13A</td><td>13A</td><td>5A</td><td>5A</td><td>5A</td><td>5A</td><td>5A</td></tr>
<tr style="height:32px"><td class="f">工作电压<span style="font-size:13px">(AC.V)</span></td><td>250V</td><td>250V</td><td>200V</td><td>180V</td><td>125V</td><td>125V</td><td>125V</td></tr>
<tr class="g" style="height:29px"><td class="f">耐压<span style="font-size:13px">(AC.V)</span></td><td>1500V</td><td>1500V</td><td>1500V</td><td>1000V</td><td>1000V</td><td>1000V</td><td>1000V</td></tr>
<tr style="height:32px"><td class="f">接触电阻<span style="font-size:13px">(mΩ)</span></td><td>2</td><td>2</td><td>5</td><td>5</td><td>5</td><td>5</td><td>5</td></tr>
<tr class="g" style="height:30px"><td class="f">线规<span style="font-size:13px">(mm²/AWG)</span></td><td>≤2/14</td><td>≤2/14</td><td>≤0.75/18</td><td>≤0.75/18</td><td>≤0.75/18</td><td>≤0.75/18</td><td>≤0.5/20</td></tr>
</table>
</body></html>
